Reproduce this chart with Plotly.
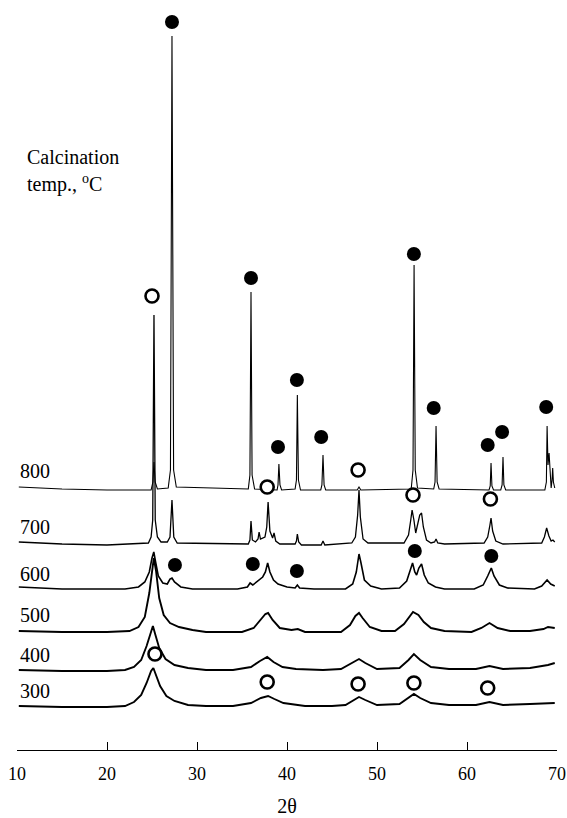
import plotly.graph_objects as go

# ---- data (2-theta, intensity above each pattern's own baseline, a.u.) ----
temps = ["800", "700", "600", "500", "400", "300"]
offsets = [260, 205, 160, 117, 78, 42]

tt_800 = [10.2, 15, 20, 24.9, 25.1, 25.22, 25.35, 25.6, 26.8, 27.05, 27.22, 27.4, 27.7,
          35.7, 35.88, 36.0, 36.12, 36.4, 38.9, 39.0, 39.1, 39.22, 39.4,
          40.9, 41.05, 41.15, 41.27, 41.5, 43.75, 43.88, 44.0, 44.12, 44.3,
          47.8, 48.0, 48.2, 53.8, 54.0, 54.12, 54.25, 54.5,
          56.3, 56.45, 56.56, 56.68, 56.9, 62.45, 62.58, 62.67, 62.77, 62.95,
          63.75, 63.9, 64.0, 64.1, 64.3, 68.65, 68.82, 68.9, 69.0, 69.12, 69.25,
          69.35, 69.45, 69.52, 69.6, 69.75]
I_800 = [3, 1, 0, 0, 8, 28, 8, 1, 2, 20, 454, 20, 3,
         1, 15, 198, 15, 1, 0, 5, 26, 5, 0,
         1, 10, 95, 10, 0, 0, 5, 35, 5, 0,
         0, 3, 0, 1, 20, 225, 20, 2,
         1, 8, 64, 8, 1, 0, 4, 27, 4, 0,
         0, 5, 33, 5, 0, 0, 8, 64, 25, 37, 8,
         2, 10, 22, 8, 2]

tt_700 = [10.2, 15, 20, 24.6, 24.9, 25.08, 25.22, 25.36, 25.6, 26.0, 26.7, 27.0, 27.22, 27.42, 27.8,
          35.7, 35.88, 36.0, 36.15, 36.5, 36.78, 36.9, 37.05, 37.55, 37.75, 37.9, 38.1, 38.4,
          38.56, 38.75, 39.2, 40.9, 41.05, 41.15, 41.3, 41.6, 43.8, 44.0, 44.2,
          47.2, 47.6, 47.85, 48.0, 48.15, 48.45, 49.0,
          53.0, 53.5, 53.75, 53.9, 54.1, 54.3, 54.55, 54.75, 54.95, 55.15, 55.5, 56.0,
          56.4, 56.56, 56.75, 57.5, 61.9, 62.3, 62.55, 62.67, 62.85, 63.2, 64.0,
          68.3, 68.6, 68.85, 69.1, 69.35, 69.55, 69.75]
I_700 = [3, 1, 0, 2, 8, 25, 230, 25, 8, 3, 3, 8, 45, 8, 2,
         1, 5, 24, 5, 3, 6, 13, 6, 8, 18, 43, 14, 7,
         12, 4, 1, 1, 4, 11, 3, 0, 0, 4, 0,
         2, 8, 30, 55, 28, 6, 2,
         2, 10, 25, 35, 25, 12, 22, 30, 32, 18, 5, 2,
         3, 6, 2, 1, 2, 8, 20, 27, 14, 4, 1,
         2, 8, 17, 9, 4, 5, 3]

tt_600 = [10.2, 15, 22, 23.5, 24.2, 24.7, 25.0, 25.2, 25.4, 25.7, 26.2, 26.7, 27.0, 27.22, 27.5, 28.2, 29.5,
          34.5, 35.6, 35.9, 36.2, 36.6, 36.9, 37.3, 37.6, 37.85, 38.1, 38.5, 39.0, 40.0,
          40.9, 41.15, 41.4, 43.0, 46.5, 47.3, 47.7, 48.0, 48.2, 48.6, 49.3, 50.5,
          52.5, 53.3, 53.7, 53.95, 54.2, 54.4, 54.65, 54.95, 55.25, 55.7, 56.5, 57.5,
          60.8, 61.8, 62.3, 62.7, 63.0, 63.6, 64.5, 67.5, 68.3, 68.9, 69.3, 69.75]
I_600 = [3, 1, 1, 3, 8, 18, 32, 38, 28, 14, 7, 6, 11, 12, 8, 3, 1,
         1, 3, 7, 5, 8, 10, 13, 18, 27, 18, 10, 6, 3,
         2, 5, 2, 1, 1, 6, 18, 36, 28, 10, 4, 1,
         2, 9, 20, 27, 18, 15, 22, 26, 15, 7, 3, 1,
         1, 5, 14, 22, 14, 5, 2, 1, 4, 10, 6, 4]

tt_500 = [10.2, 15, 20, 22.5, 23.5, 24.2, 24.7, 25.0, 25.2, 25.45, 25.8, 26.3, 27.0, 28.0, 29.5, 31.0,
          35.0, 36.3, 37.0, 37.6, 37.9, 38.4, 39.2, 40.5, 41.2, 42.0,
          46.0, 47.0, 47.6, 48.0, 48.4, 49.2, 50.5,
          52.0, 53.0, 53.6, 54.0, 54.6, 55.2, 56.0, 57.5,
          60.5, 61.6, 62.5, 63.4, 64.8, 67.0, 68.5, 69.0, 69.75]
I_500 = [2, 1, 1, 2, 6, 16, 40, 65, 75, 62, 35, 18, 10, 6, 3, 1,
         1, 5, 12, 19, 20, 13, 5, 3, 4, 1,
         1, 8, 17, 20, 15, 6, 2,
         2, 9, 17, 21, 18, 11, 5, 2,
         1, 5, 10, 5, 2, 2, 4, 6, 5]

tt_400 = [10.2, 15, 20, 22.0, 23.0, 23.8, 24.4, 24.9, 25.1, 25.35, 25.8, 26.5, 27.5, 29.0, 31.0, 34.0,
          36.0, 37.0, 37.8, 38.5, 39.5, 41.0, 44.0, 46.0, 47.2, 48.0, 48.7, 50.0,
          52.5, 53.5, 54.1, 54.8, 56.0, 58.0, 61.0, 62.5, 64.0, 67.0, 69.0, 69.75]
I_400 = [2, 1, 1, 2, 5, 12, 26, 40, 46, 38, 24, 13, 7, 4, 2, 2,
         5, 11, 15, 10, 5, 3, 2, 3, 9, 13, 9, 3,
         4, 12, 18, 12, 5, 3, 3, 6, 3, 4, 7, 9]

tt_300 = [10.2, 15, 20, 22.0, 23.0, 23.8, 24.4, 24.9, 25.15, 25.4, 25.9, 26.6, 27.5, 29.0, 31.0, 34.0,
          36.0, 37.1, 37.9, 38.6, 39.6, 42.0, 45.0, 46.5, 47.4, 48.0, 48.7, 50.0,
          52.5, 53.5, 54.1, 54.8, 56.0, 58.0, 61.0, 62.5, 64.0, 67.0, 69.0, 69.75]
I_300 = [2, 1, 1, 2, 6, 13, 25, 37, 40, 34, 22, 12, 7, 3, 2, 2,
         5, 10, 12, 9, 5, 2, 2, 3, 8, 11, 8, 3,
         4, 10, 14, 10, 5, 3, 3, 6, 3, 4, 5, 5]

series_tt = [tt_800, tt_700, tt_600, tt_500, tt_400, tt_300]
series_I = [I_800, I_700, I_600, I_500, I_400, I_300]

# phase markers (2-theta, plot height)
rutile_tt = [27.22, 36.0, 39.0, 41.1, 43.8, 54.1, 56.3, 62.3, 63.9, 68.8,
             27.55, 36.2, 41.1, 54.2, 62.7]
rutile_y = [728, 472, 303, 370, 313, 496, 342, 305, 318, 343,
            185, 186, 179, 199, 194]
anatase_tt = [25.0, 37.8, 47.9, 54.0, 62.6, 25.33, 37.8, 47.9, 54.1, 62.3]
anatase_y = [454, 263, 280, 255, 251, 96, 68, 66, 67, 62]

label_y = [279, 223, 176, 135, 95, 59]
xticks = [10, 20, 30, 40, 50, 60, 70]

SERIF = "Liberation Serif, DejaVu Serif, Times New Roman, serif"

fig = go.Figure()
widths = [1.1, 1.3, 1.6, 1.9, 1.9, 1.9]
for k in range(len(temps)):
    fig.add_trace(go.Scatter(
        x=series_tt[k], y=[v + offsets[k] for v in series_I[k]],
        mode="lines", line=dict(color="black", width=widths[k]),
        showlegend=False, hoverinfo="skip"))

fig.add_trace(go.Scatter(x=rutile_tt, y=rutile_y, mode="markers",
                         marker=dict(size=14, color="black", line=dict(width=0)),
                         showlegend=False))
fig.add_trace(go.Scatter(x=anatase_tt, y=anatase_y, mode="markers",
                         marker=dict(size=13, color="white", line=dict(color="black", width=2.6)),
                         showlegend=False))

for k, t in enumerate(temps):
    fig.add_annotation(x=10.1, y=label_y[k], xref="x", yref="y", text=t,
                       showarrow=False, xanchor="left", yanchor="middle",
                       font=dict(family=SERIF, size=20, color="black"))

fig.add_annotation(x=10.9, y=593, xref="x", yref="y", text="Calcination",
                   showarrow=False, xanchor="left", yanchor="middle",
                   font=dict(family=SERIF, size=20, color="black"))
fig.add_annotation(x=10.9, y=567, xref="x", yref="y", text="temp., <sup>o</sup>C",
                   showarrow=False, xanchor="left", yanchor="middle",
                   font=dict(family=SERIF, size=20, color="black"))

fig.update_layout(
    width=567, height=818,
    margin=dict(l=17, r=10, t=10, b=68, autoexpand=False),
    paper_bgcolor="white", plot_bgcolor="white",
    xaxis=dict(range=[10, 70], tickvals=xticks, ticktext=[str(v) for v in xticks],
               showline=True, linecolor="black", linewidth=1.2,
               ticks="inside", ticklen=8, tickwidth=1.2, tickcolor="black",
               ticklabelstandoff=7, automargin=False,
               showgrid=False, zeroline=False,
               tickfont=dict(family=SERIF, size=18, color="black"),
               title=dict(text="2θ", font=dict(family=SERIF, size=20, color="black"), standoff=16)),
    yaxis=dict(range=[0, 740], visible=False, showgrid=False, zeroline=False, automargin=False),
)

fig.write_html("out.html")
